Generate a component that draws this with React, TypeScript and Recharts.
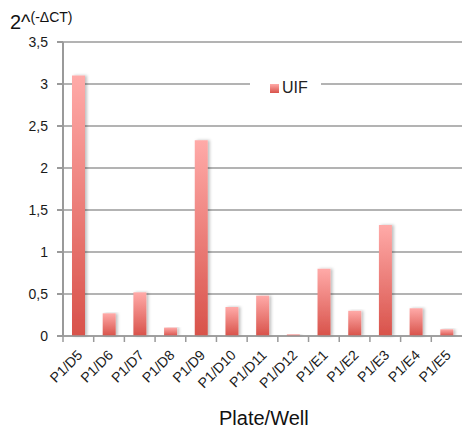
import { BarChart, Bar, XAxis, YAxis, CartesianGrid, Legend } from "recharts";

const wells = [
  "P1/D5", "P1/D6", "P1/D7", "P1/D8", "P1/D9", "P1/D10", "P1/D11",
  "P1/D12", "P1/E1", "P1/E2", "P1/E3", "P1/E4", "P1/E5",
];
const uif = [3.1, 0.27, 0.52, 0.1, 2.33, 0.345, 0.48, 0.02, 0.8, 0.3, 1.32, 0.33, 0.08];
const yTicks = [0, 0.5, 1, 1.5, 2, 2.5, 3, 3.5];

const data = wells.map((well, i) => ({ well, UIF: uif[i] }));

const FONT = "'Liberation Sans', Arial, sans-serif";
const GRID = "#9a9a9a";

// category ticks sit on the band edges, labels turned 45°
// eslint-disable-next-line @typescript-eslint/no-explicit-any
function WellTick(props: any) {
  const { x, y, payload } = props;
  const edge = x - (payload.offset ?? 0);
  const tx = x + 5;
  const ty = y + 20;
  return (
    <g>
      <line x1={edge} x2={edge} y1={y} y2={y + 6} stroke={GRID} strokeWidth={1.5} />
      <text
        x={tx}
        y={ty}
        transform={`rotate(-45, ${tx}, ${ty})`}
        textAnchor="end"
        fontSize={14}
        fontFamily={FONT}
        fill="#1a1a1a"
      >
        {payload.value}
      </text>
    </g>
  );
}

function LegendBox() {
  return (
    <div
      style={{
        background: "#fff",
        width: 71,
        height: 24,
        display: "flex",
        alignItems: "center",
        fontFamily: FONT,
        fontSize: 16,
        color: "#222",
      }}
    >
      <span
        style={{
          display: "inline-block",
          width: 9,
          height: 9,
          marginLeft: 20,
          marginRight: 3,
          background: "linear-gradient(#ffaaa8, #d8524a)",
        }}
      />
      UIF
    </div>
  );
}

export default function App() {
  return (
    <div style={{ position: "absolute", left: 0, top: 0, width: 462, height: 441, background: "#fff" }}>
      <BarChart
        width={462}
        height={441}
        data={data}
        margin={{ top: 42, right: 0, bottom: 0, left: 8 }}
        barSize={13}
      >
        <defs>
          <linearGradient id="uifFill" x1="0" y1="0" x2="0" y2="1">
            <stop offset="0%" stopColor="#ffaaa8" />
            <stop offset="100%" stopColor="#d8524a" />
          </linearGradient>
          <filter id="barShadow" x="-30%" y="-5%" width="180%" height="110%">
            <feDropShadow dx={2} dy={0} stdDeviation={1.6} floodColor="#000" floodOpacity={0.25} />
          </filter>
        </defs>
        <CartesianGrid vertical={false} stroke={GRID} strokeWidth={1.4} />
        <XAxis
          dataKey="well"
          interval={0}
          height={81}
          stroke={GRID}
          strokeWidth={1.5}
          tickLine={false}
          tickSize={0}
          tickMargin={0}
          tick={<WellTick />}
        />
        <YAxis
          width={55}
          domain={[0, 3.5]}
          ticks={yTicks}
          stroke={GRID}
          strokeWidth={2}
          tickSize={6}
          tickMargin={9}
          tick={{ fontSize: 14, fill: "#1a1a1a", fontFamily: FONT }}
          tickFormatter={(v: number) => String(v).replace(".", ",")}
        />
        <Legend
          content={<LegendBox />}
          wrapperStyle={{ position: "absolute", top: 76, left: 250, width: 71 }}
        />
        <Bar
          dataKey="UIF"
          fill="url(#uifFill)"
          filter="url(#barShadow)"
          isAnimationActive={false}
        />
      </BarChart>
      <div
        style={{
          position: "absolute",
          left: 10,
          top: 11,
          fontFamily: FONT,
          color: "#111",
          whiteSpace: "nowrap",
        }}
      >
        <span style={{ fontSize: 20 }}>2^</span>
        <span style={{ fontSize: 14, position: "relative", top: -7 }}>(-ΔCT)</span>
      </div>
      <div
        style={{
          position: "absolute",
          left: 219,
          top: 407,
          fontFamily: FONT,
          fontSize: 20,
          color: "#111",
          whiteSpace: "nowrap",
        }}
      >
        Plate/Well
      </div>
    </div>
  );
}
